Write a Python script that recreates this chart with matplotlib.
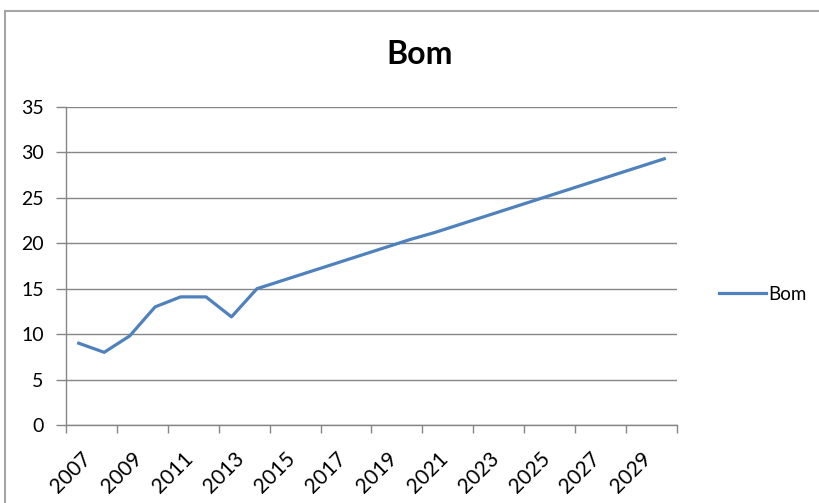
import matplotlib
matplotlib.use('Agg')
import matplotlib.pyplot as plt
from matplotlib.patches import Rectangle
import numpy as np

# %% data

years = list(range(2007, 2031))
bom = [9.0, 8.0, 9.8, 13.0, 14.1, 14.1, 11.9, 15.0,
       15.9, 16.8, 17.7, 18.6, 19.5, 20.4, 21.2, 22.1,
       23.0, 23.9, 24.8, 25.7, 26.6, 27.5, 28.4, 29.3]
y_ticks = [0, 5, 10, 15, 20, 25, 30, 35]
series_name = 'Bom'
title = 'Bom'

# %% style

plt.rcParams['font.family'] = ['Lato', 'DejaVu Sans']
line_color = '#4f81bd'
grid_color = '#868686'

fig = plt.figure(figsize=(8.2, 5.03), dpi=100)
ax = fig.add_axes([66 / 820, 1 - 425 / 503, (677 - 66) / 820, (425 - 107) / 503])

x = np.arange(len(years))
ax.plot(x, bom, color=line_color, linewidth=2.3, label=series_name,
        solid_joinstyle='round')

ax.set_xlim(-0.5, len(years) - 0.5)
ax.set_ylim(y_ticks[0], y_ticks[-1])

# y axis
ax.set_yticks(y_ticks)
ax.set_yticklabels([str(v) for v in y_ticks], fontsize=14)
ax.yaxis.grid(True, color=grid_color, linewidth=1.0)
ax.set_axisbelow(True)

# x axis: ticks between categories every 2, labels centred on categories
ax.set_xticks(np.arange(-0.5, len(years), 2))
ax.set_xticklabels([])
ax.set_xticks(x[::2] + 0.1, minor=True)
ax.set_xticklabels([str(y) for y in years[::2]], minor=True, fontsize=15,
                   rotation=45, ha='right', va='top', rotation_mode='anchor')
ax.tick_params(axis='x', which='minor', length=0, pad=17)
ax.tick_params(axis='x', which='major', length=6, color=grid_color, width=1)
ax.tick_params(axis='y', length=7, color=grid_color, width=1, pad=9)

for side in ['top', 'right']:
    ax.spines[side].set_visible(False)
for side in ['left', 'bottom']:
    ax.spines[side].set_color(grid_color)
    ax.spines[side].set_linewidth(1.0)

fig.text(420 / 820, 1 - 55 / 503, title, fontsize=23, fontweight='bold',
         ha='center', va='center')

fig.legend(loc='center left', bbox_to_anchor=(712 / 820, 1 - 294 / 503),
           frameon=False, fontsize=13.5, handlelength=2.5, handletextpad=0.1,
           borderaxespad=0)

# chart frame (only top/left edges visible in the crop)
fig.patches.append(Rectangle((5 / 820, -0.1), 2, 1 - 11 / 503 + 0.1,
                             transform=fig.transFigure, fill=False,
                             edgecolor='#a6a6a6', linewidth=1.5))

fig.savefig('out.png', dpi=100)
